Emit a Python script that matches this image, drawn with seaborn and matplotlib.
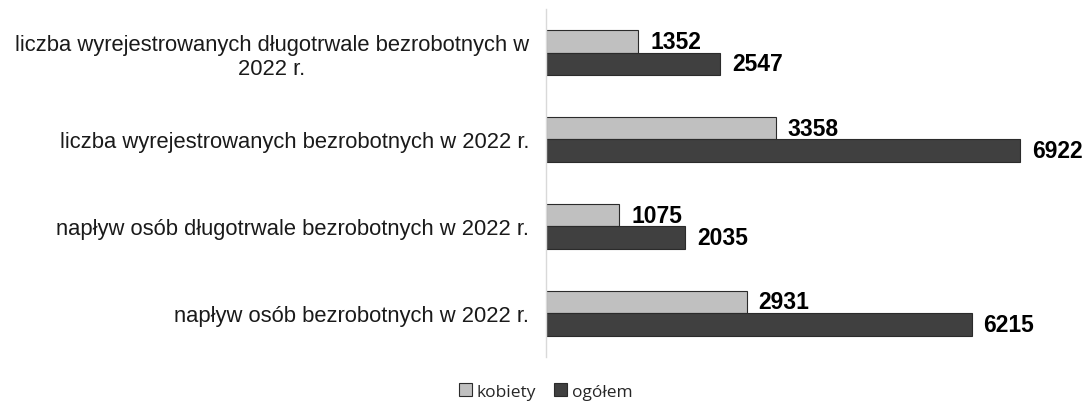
import pandas as pd
import matplotlib.pyplot as plt
import seaborn as sns

categories = [
    "liczba wyrejestrowanych długotrwale bezrobotnych w\n2022 r.",
    "liczba wyrejestrowanych bezrobotnych w 2022 r.",
    "napływ osób długotrwale bezrobotnych w 2022 r.",
    "napływ osób bezrobotnych w 2022 r.",
]
kobiety = [1352, 3358, 1075, 2931]
ogolem = [2547, 6922, 2035, 6215]
series = ["kobiety", "ogółem"]

df = pd.DataFrame({
    "kategoria": categories * 2,
    "wartosc": kobiety + ogolem,
    "seria": [series[0]] * 4 + [series[1]] * 4,
})

sns.set_style("white")
plt.rcParams["font.family"] = ["Liberation Sans", "DejaVu Sans"]

fig = plt.figure(figsize=(10.87, 4.1), dpi=100)
ax = fig.add_axes([0.502, 0.128, 0.495, 0.847])

sns.barplot(data=df, y="kategoria", x="wartosc", hue="seria", orient="h",
            palette=["#c0c0c0", "#404040"], width=0.52, edgecolor="#2b2b2b",
            linewidth=0.8, ax=ax)

for cont in ax.containers:
    ax.bar_label(cont, padding=8.5, fontsize=16.5, fontweight="bold", color="black")

ax.set_xlim(0, 7850)
ax.set_xlabel("")
ax.set_ylabel("")
ax.set_xticks([])
for s in ["top", "right", "bottom"]:
    ax.spines[s].set_visible(False)
ax.spines["left"].set_color("#d9d9d9")
ax.spines["left"].set_linewidth(1)
ax.tick_params(axis="y", length=0, pad=12, labelsize=15.8, labelcolor="#1a1a1a")
for lab in ax.get_yticklabels():
    lab.set_multialignment("center")

ax.legend(loc="lower center", bbox_to_anchor=(0.502, -0.015), bbox_transform=fig.transFigure,
          ncol=2, frameon=False, handlelength=0.75, handleheight=0.75, handletextpad=0.3,
          columnspacing=1.0, prop={"family": "Open Sans", "size": 12.5})

fig.savefig("out.png", dpi=100)
